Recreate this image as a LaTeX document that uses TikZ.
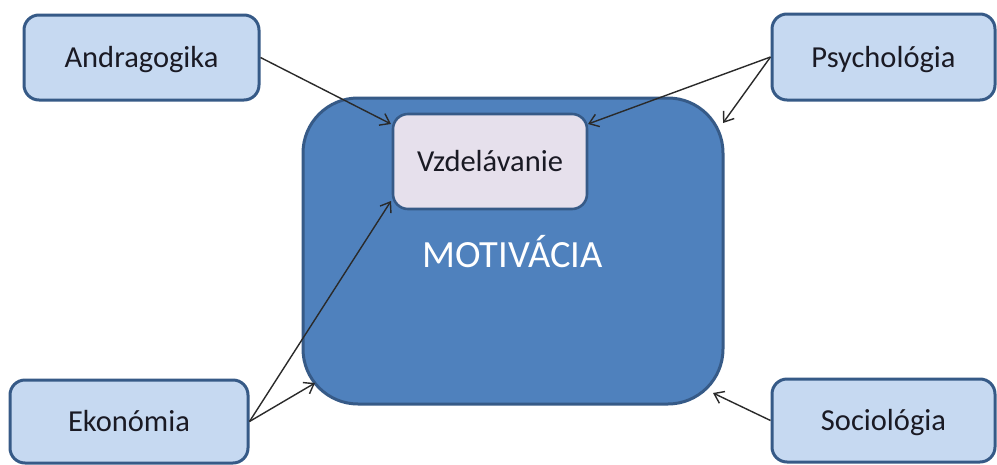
\documentclass[tikz,border=0pt]{standalone}
\usepackage{fontspec}
\setmainfont{Carlito}
\usetikzlibrary{arrows.meta}
\definecolor{boxedge}{HTML}{365A87}
\definecolor{lightfill}{HTML}{C6D9F1}
\definecolor{mainfill}{HTML}{4F81BD}
\definecolor{innerfill}{HTML}{E6E0EC}
\definecolor{txt}{HTML}{1A1A24}
\definecolor{arrowcol}{HTML}{2A2A2A}
\begin{document}
\begin{tikzpicture}[x=1pt,y=-1pt,
  sidebox/.style={draw=boxedge, line width=3pt, fill=lightfill, rounded corners=15pt,
    inner sep=0pt, text=txt, font=\fontsize{30.5}{32}\selectfont, text height=20pt, text depth=0pt},
  mainbox/.style={draw=boxedge, line width=3pt, fill=mainfill, rounded corners=55pt, inner sep=0pt},
  innerbox/.style={draw=boxedge, line width=2.6pt, fill=innerfill, rounded corners=15pt,
    inner sep=0pt, text=txt, font=\fontsize{30.5}{32}\selectfont, text height=20pt, text depth=0pt},
  conn/.style={draw=arrowcol, line width=1.4pt, -{Straight Barb[length=9pt,width=13pt,line width=1.4pt]}}]
\useasboundingbox (0,0) rectangle (997,464);
\fill[white] (0,0) rectangle (997,464);
% main box
\node[mainbox, minimum width=420pt, minimum height=306pt] (main) at (513,251) {};
\node[text=white, font=\fontsize{38.5}{40}\selectfont, inner sep=0pt, text height=25pt, text depth=0pt] (mot) at (512.5,254.5) {MOTIVÁCIA};
% inner box
\node[innerbox, minimum width=194pt, minimum height=95pt] (vzd) at (490,161.5) {Vzdelávanie};
% side boxes
\node[sidebox, minimum width=235pt, minimum height=85pt] (andr) at (141.5,57.5) {Andragogika};
\node[sidebox, minimum width=223pt, minimum height=86pt] (psy) at (883.5,57) {Psychológia};
\node[sidebox, minimum width=238pt, minimum height=83pt] (eko) at (129,421.5) {Ekonómia};
\node[sidebox, minimum width=223pt, minimum height=83pt] (soc) at (883.5,420.5) {Sociológia};
% arrow targets
\coordinate (vTL) at (391,124);
\coordinate (vTR) at (588,124);
\coordinate (vBL) at (391,201);
\coordinate (mTR) at (723,123);
\coordinate (mBL) at (315,383);
\coordinate (mBR) at (713,393);
% connectors
\draw[conn] (andr.east) -- (vTL);
\draw[conn] (psy.west) -- (vTR);
\draw[conn] (psy.west) -- (mTR);
\draw[conn] (eko.east) -- (vBL);
\draw[conn] (eko.east) -- (mBL);
\draw[conn] (soc.west) -- (mBR);
\end{tikzpicture}
\end{document}
